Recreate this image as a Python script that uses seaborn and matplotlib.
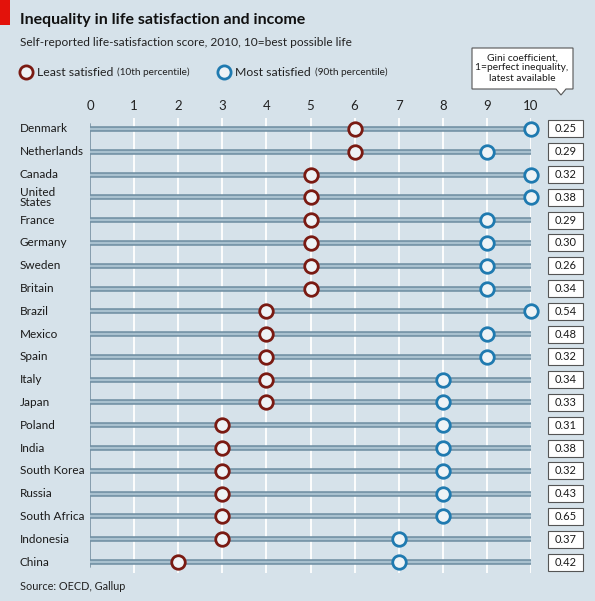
import matplotlib
matplotlib.use("Agg")
import matplotlib.pyplot as plt
import seaborn as sns
import pandas as pd
from matplotlib.patches import Rectangle, Polygon
from matplotlib.lines import Line2D

countries = ["Denmark", "Netherlands", "Canada", "United\nStates", "France",
             "Germany", "Sweden", "Britain", "Brazil", "Mexico", "Spain",
             "Italy", "Japan", "Poland", "India", "South Korea", "Russia",
             "South Africa", "Indonesia", "China"]
least = [6, 6, 5, 5, 5, 5, 5, 5, 4, 4, 4, 4, 4, 3, 3, 3, 3, 3, 3, 2]
most = [10, 9, 10, 10, 9, 9, 9, 9, 10, 9, 9, 8, 8, 8, 8, 8, 8, 8, 7, 7]
gini = ["0.25", "0.29", "0.32", "0.38", "0.29", "0.30", "0.26", "0.34", "0.54",
        "0.48", "0.32", "0.34", "0.33", "0.31", "0.38", "0.32", "0.43", "0.65",
        "0.37", "0.42"]
ticks = list(range(11))

BG = "#d6e2ea"
RED = "#7a1a12"
BLUE = "#1f7ab0"
FILL = "#eef3f6"
FONT = ["Lato", "DejaVu Sans"]

sns.set_style("white")
plt.rcParams["font.family"] = FONT

df = pd.DataFrame({"country": countries, "least": least, "most": most})
df["row"] = range(len(df))

W, H = 595, 601
fig = plt.figure(figsize=(W / 100, H / 100), dpi=100, facecolor=BG)
top, bot = 117.6, 573.4
ax = fig.add_axes([90 / W, 1 - bot / H, 441 / W, (bot - top) / H])
ax.set_facecolor(BG)
ax.set_xlim(0, 10)
ax.set_ylim(len(df) - 0.5, -0.5)

# white gridlines
for t in ticks[1:]:
    ax.axvline(t, color="white", lw=1.3, zorder=1)
ax.axvline(0, color="#7f97a8", lw=1.3, zorder=2, ymax=0.985, ymin=0.015)

# tracks
ax.hlines(df["row"], 0, 10, color="#6f8ea2", lw=4.0, zorder=3, capstyle="round")
ax.hlines(df["row"], 0, 10, color="#a9c1cf", lw=1.7, zorder=3.1)

# dots
sns.scatterplot(data=df, x="least", y="row", ax=ax, s=95, color=FILL,
                edgecolor=RED, linewidth=2.0, zorder=5, clip_on=False, legend=False)
sns.scatterplot(data=df, x="most", y="row", ax=ax, s=95, color=FILL,
                edgecolor=BLUE, linewidth=2.0, zorder=5, clip_on=False, legend=False)

for s in ax.spines.values():
    s.set_visible(False)
ax.xaxis.tick_top()
ax.set_xticks(ticks)
ax.set_xticklabels([str(t) for t in ticks], fontsize=9.5, color="#222222")
ax.tick_params(axis="x", length=0, pad=4)
ax.set_yticks([])
ax.set_xlabel("")
ax.set_ylabel("")

# country labels and gini boxes
for i, (c, g) in enumerate(zip(countries, gini)):
    y = 1 - (top + (i + 0.5) * (bot - top) / len(df)) / H
    fig.text(20 / W, y, c, fontsize=8.5, color="#1a1a1a", va="center", ha="left",
             linespacing=0.95)
    fig.patches.append(Rectangle((548 / W, y - 8.5 / H), 35 / W, 17 / H,
                                 transform=fig.transFigure, facecolor="white",
                                 edgecolor="#555555", lw=0.8))
    fig.text(565.5 / W, y, g, fontsize=8, color="#1a1a1a", va="center", ha="center")

# red tab, title, subtitle
fig.patches.append(Rectangle((0, 1 - 25 / H), 10 / W, 25 / H, transform=fig.transFigure,
                             facecolor="#e3120b", edgecolor="none"))
fig.text(20 / W, 1 - 20 / H, "Inequality in life satisfaction and income",
         fontsize=11.5, fontweight="bold", color="#111111", va="center")
fig.text(20 / W, 1 - 42 / H, "Self-reported life-satisfaction score, 2010, 10=best possible life",
         fontsize=8.6, color="#222222", va="center")

# legend
renderer = fig.canvas.get_renderer()
for cx, col, t1, t2 in [(26, RED, "Least satisfied", "(10th percentile)"),
                        (224, BLUE, "Most satisfied", "(90th percentile)")]:
    fig.add_artist(Line2D([cx / W], [1 - 72 / H], marker="o", markersize=9.5,
                          markerfacecolor=FILL, markeredgecolor=col, markeredgewidth=2.0,
                          transform=fig.transFigure))
    a = fig.text((cx + 11) / W, 1 - 72 / H, t1, fontsize=8.8, color="#222222", va="center")
    x_end = a.get_window_extent(renderer).x1
    fig.text((x_end + 4) / W, 1 - 72 / H, t2, fontsize=7.2, color="#222222", va="center")

# gini callout
pts = [(472, 48), (573, 48), (573, 89), (566, 89), (561, 95), (556, 89), (472, 89)]
fig.patches.append(Polygon([(x / W, 1 - y / H) for x, y in pts], closed=True,
                           transform=fig.transFigure, facecolor="white",
                           edgecolor="#555555", lw=0.8))
fig.text(522 / W, 1 - 68 / H, "Gini coefficient,\n1=perfect inequality,\nlatest available",
         fontsize=7.4, color="#1a1a1a", ha="center", va="center", linespacing=1.15)

fig.text(20 / W, 1 - 587 / H, "Source: OECD, Gallup", fontsize=7.8, color="#222222",
         va="center")

fig.savefig("out.png", dpi=100, facecolor=BG)
